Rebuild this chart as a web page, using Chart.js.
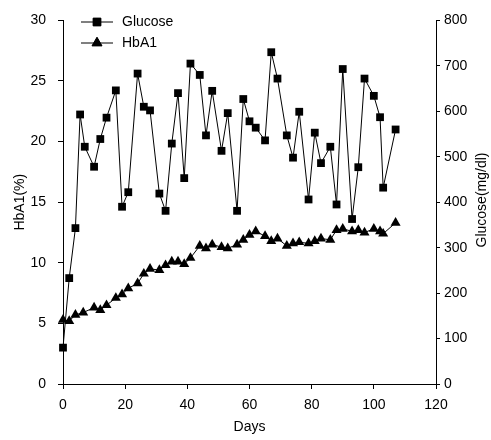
<!DOCTYPE html>
<html>
<head>
<meta charset="utf-8">
<script src="https://cdn.jsdelivr.net/npm/chart.js@4"></script>
<style>
  body { margin: 0; background: #fff; }
  #wrap { width: 491px; height: 440px; }
</style>
</head>
<body>
<div id="wrap"><canvas id="chart" width="491" height="440"></canvas></div>
<script>
const glucoseDays = [0, 2, 4, 5.5, 7, 10, 12, 14, 17, 19, 21, 24, 26, 28, 31, 33, 35, 37, 39, 41, 44, 46, 48, 51, 53, 56, 58, 60, 62, 65, 67, 69, 72, 74, 76, 79, 81, 83, 86, 88, 90, 93, 95, 97, 100, 102, 103, 107];
const glucoseValues = [80, 233, 343, 593, 522, 478, 539, 586, 646, 390, 422, 683, 610, 602, 419, 381, 529, 640, 453, 705, 680, 547, 645, 513, 596, 381, 627, 578, 564, 536, 730, 672, 547, 498, 599, 406, 553, 486, 522, 395, 693, 363, 477, 672, 634, 587, 432, 560];

const hba1Days = [0, 2, 4, 6.5, 10, 12, 14, 17, 19, 21, 24, 26, 28, 31, 33, 35, 37, 39, 41, 44, 46, 48, 51, 53, 56, 58, 60, 62, 65, 67, 69, 72, 74, 76, 79, 81, 83, 86, 88, 90, 93, 95, 97, 100, 102, 103, 107];
const hba1Values = [5.3, 5.2, 5.7, 5.9, 6.3, 6.1, 6.5, 7.1, 7.4, 7.9, 8.3, 9.1, 9.5, 9.4, 9.8, 10.1, 10.1, 9.9, 10.4, 11.4, 11.2, 11.5, 11.3, 11.2, 11.5, 11.9, 12.3, 12.6, 12.2, 11.8, 12.0, 11.4, 11.6, 11.7, 11.6, 11.8, 12.0, 11.9, 12.7, 12.8, 12.6, 12.7, 12.5, 12.8, 12.6, 12.4, 13.3];

const xTicks = [0, 20, 40, 60, 80, 100, 120];
const leftTicks = [0, 5, 10, 15, 20, 25, 30];
const rightTicks = [0, 100, 200, 300, 400, 500, 600, 700, 800];

const font = { family: 'Liberation Sans, Arial, sans-serif', size: 14 };

// legend inside the plot and the right-hand title (drawn bottom-to-top like the left one)
const extras = {
    id: 'extras',
    afterDraw(c) {
        const ctx = c.ctx;
        ctx.save();
        ctx.strokeStyle = '#000';
        ctx.fillStyle = '#000';
        ctx.lineWidth = 1;
        ctx.font = '14px ' + font.family;
        ctx.textBaseline = 'middle';
        const rows = [['Glucose', 'rect', 5.5, 22], ['HbA1', 'triangle', 5.8, 43]];
        rows.forEach(([label, style, r, y]) => {
            ctx.beginPath();
            ctx.moveTo(81, y);
            ctx.lineTo(113, y);
            ctx.stroke();
            Chart.helpers.drawPoint(ctx, { pointStyle: style, radius: r, borderWidth: 1 }, 97, y);
            ctx.fill();
            ctx.fillText(label, 122, y);
        });
        ctx.translate(482, 200);
        ctx.rotate(-Math.PI / 2);
        ctx.textAlign = 'center';
        ctx.fillText('Glucose(mg/dl)', 0, 0);
        ctx.restore();
    }
};

new Chart(document.getElementById('chart'), {
    type: 'line',
    data: {
        datasets: [{
            label: 'Glucose',
            data: glucoseDays.map((d, i) => ({ x: d, y: glucoseValues[i] })),
            yAxisID: 'y2',
            borderColor: '#000',
            borderWidth: 1,
            backgroundColor: '#000',
            pointStyle: 'rect',
            pointRadius: 5.5,
            pointBorderWidth: 0,
            tension: 0,
            clip: false,
        }, {
            label: 'HbA1',
            data: hba1Days.map((d, i) => ({ x: d, y: hba1Values[i] })),
            yAxisID: 'y',
            borderColor: '#000',
            borderWidth: 1,
            backgroundColor: '#000',
            pointStyle: 'triangle',
            pointRadius: 5.8,
            pointBorderWidth: 0,
            tension: 0,
            clip: false,
        }],
    },
    options: {
        responsive: false,
        animation: false,
        layout: { padding: { top: 15, left: 0, right: 0, bottom: 0 } },
        scales: {
            x: {
                type: 'linear',
                min: 0,
                max: 120,
                afterFit: s => { s.height = 56; },
                afterBuildTicks: s => { s.ticks = xTicks.map(v => ({ value: v })); },
                border: { color: '#000', width: 1 },
                grid: { drawOnChartArea: false, color: '#000', tickLength: 5 },
                ticks: { color: '#000', font, padding: 8, maxRotation: 0 },
                title: { display: true, text: 'Days', color: '#000', font, padding: { top: 3 } },
            },
            y: {
                position: 'left',
                min: 0,
                max: 30,
                afterFit: s => { s.width = 63; },
                afterBuildTicks: s => { s.ticks = leftTicks.map(v => ({ value: v })); },
                border: { color: '#000', width: 1 },
                grid: { drawOnChartArea: false, color: '#000', tickLength: 5 },
                ticks: { color: '#000', font, padding: 12 },
                title: { display: true, text: 'HbA1(%)', color: '#000', font, padding: { top: 12 } },
            },
            y2: {
                position: 'right',
                min: 0,
                max: 800,
                afterFit: s => { s.width = 55; },
                afterBuildTicks: s => { s.ticks = rightTicks.map(v => ({ value: v })); },
                border: { color: '#000', width: 1 },
                grid: { drawOnChartArea: false, color: '#000', tickLength: 4 },
                ticks: { color: '#000', font, padding: 4 },
            },
        },
        plugins: {
            legend: { display: false },
            tooltip: { enabled: false },
        },
    },
    plugins: [extras],
});
</script>
</body>
</html>
